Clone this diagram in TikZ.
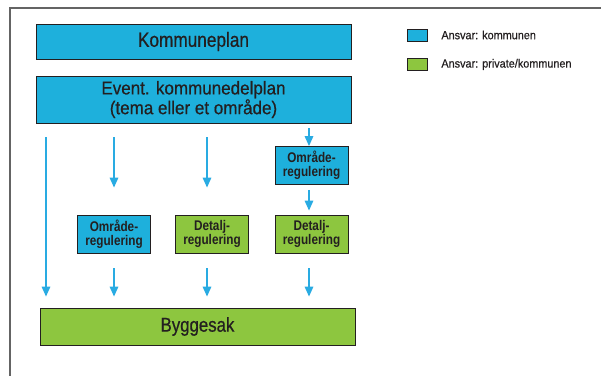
\documentclass[tikz,border=0pt]{standalone}
\usepackage{fontspec}
\newfontfamily\condfont[FakeStretch=0.84, FakeBold=0.6]{Liberation Sans}
\newfontfamily\semicondfont[FakeStretch=0.92, FakeBold=0.5]{Liberation Sans}
\newfontfamily\smallcondfont[FakeStretch=0.84]{Liberation Sans}
\usetikzlibrary{arrows.meta}
\definecolor{kblue}{RGB}{30,176,220}
\definecolor{kgreen}{RGB}{141,198,63}
\definecolor{ktext}{RGB}{35,31,32}
\definecolor{karrow}{RGB}{41,171,226}
\definecolor{kframe}{RGB}{100,100,100}
\begin{document}
\begin{tikzpicture}[x=1pt, y=-1pt, line width=0.8pt,
  planbox/.style={draw=ktext, text=ktext, inner sep=0pt, align=center},
  smallbox/.style={planbox, minimum width=73pt, minimum height=38pt,
    font=\smallcondfont\bfseries\fontsize{14}{14}\selectfont},
  flow/.style={draw=karrow, line width=1.6pt, -{Triangle[length=10pt, width=8.5pt]}},
  swatch/.style={draw=ktext, minimum width=20pt, minimum height=12pt, inner sep=0pt},
  legtext/.style={anchor=west, text=ktext, inner sep=0pt,
    font=\semicondfont\fontsize{11.8}{12}\selectfont}]
  \useasboundingbox (0,0) rectangle (601,376);
  % frame
  \draw[kframe, line width=1.7pt] (601,8) -- (10,8) -- (10,376);
  % plans
  \node[planbox, fill=kblue, minimum width=315pt, minimum height=35pt,
    font=\condfont\fontsize{20.5}{20}\selectfont] (kplan) at (193.5,41.5) {Kommuneplan};
  \node[planbox, fill=kblue, minimum width=315pt, minimum height=47pt,
    font=\semicondfont\fontsize{18.5}{17.5}\selectfont] (delplan) at (193.5,99.5)
    {Event. kommunedelplan\\(tema eller et område)};
  \node[smallbox, fill=kblue] (omr2) at (311.5,165.5) {Område-\\regulering};
  \node[smallbox, fill=kblue] (omr1) at (114,234) {Område-\\regulering};
  \node[smallbox, fill=kgreen] (det1) at (212,234) {Detalj-\\regulering};
  \node[smallbox, fill=kgreen] (det2) at (311.5,234) {Detalj-\\regulering};
  \node[planbox, fill=kgreen, minimum width=315pt, minimum height=37pt,
    font=\condfont\fontsize{20}{20}\selectfont] (bygg) at (197.5,326.5) {Byggesak};
  % arrows
  \draw[flow, shorten <=14pt, shorten >=11pt] (delplan.south -| 46,0) -- (bygg.north -| 46,0);
  \draw[flow, shorten <=14pt, shorten >=27pt] (delplan.south -| omr1.north) -- (omr1.north);
  \draw[flow, shorten <=14pt, shorten >=27pt] (delplan.south -| 207,0) -- (det1.north -| 207,0);
  \draw[flow, shorten <=5pt] (delplan.south -| 309,0) -- (omr2.north -| 309,0);
  \draw[flow, shorten <=5pt, shorten >=4pt] (omr2.south -| 309,0) -- (det2.north -| 309,0);
  \draw[flow, shorten <=15pt, shorten >=11pt] (omr1.south) -- (bygg.north -| omr1.south);
  \draw[flow, shorten <=15pt, shorten >=11pt] (det1.south -| 207,0) -- (bygg.north -| 207,0);
  \draw[flow, shorten <=15pt, shorten >=11pt] (det2.south -| 309,0) -- (bygg.north -| 309,0);
  % legend
  \node[swatch, fill=kblue] (legblue) at (417,35) {};
  \node[swatch, fill=kgreen] (leggreen) at (417,64.5) {};
  \node[legtext] (legbluetxt) at (441,35) {Ansvar: kommunen};
  \node[legtext] (leggreentxt) at (441,64.5) {Ansvar: private/kommunen};
\end{tikzpicture}
\end{document}
